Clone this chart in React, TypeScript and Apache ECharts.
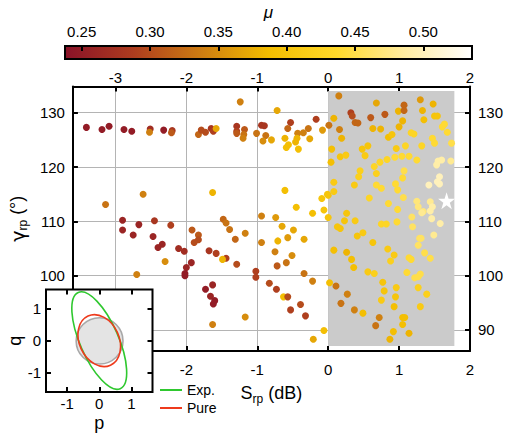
import React, { useEffect, useRef } from "react";
import * as echarts from "echarts";

const FONT = "Liberation Sans, Arial, Helvetica, sans-serif";

// Main axes
const sRange = [-3.6, 2];
const gammaRange = [86.13, 134.83];
const sTicks = [-3, -2, -1, 0, 1, 2];
const sLabelsBottom = [-2, -1, 0, 1, 2];
const gammaTicks = [90, 100, 110, 120, 130];
const gammaLabelsLeft = [100, 110, 120, 130];

// Colour bar (mu)
const muRange = [0.2378, 0.5356];
const muTicks = [0.25, 0.3, 0.35, 0.4, 0.45, 0.5];
const colorMap = ["#8a1228", "#ad3c1f", "#cd7c12", "#f3bd00", "#ffd92a", "#ffeca0", "#ffffff"];

// Highlighted region [Smin, gammaMin, Smax, gammaMax]
const highlightRegion = [[0, 87.05, 1.78, 134.0]];
// Star marker [S, gamma]
const starPoint = [[1.67, 113.8]];

// Scatter data [S (dB), gamma (deg), mu]
const topBandLeft = [
  [-3.41, 127.3, 0.25], [-3.19, 126.9, 0.25], [-3.09, 127.5, 0.25], [-2.88, 126.9, 0.25],
  [-2.77, 126.6, 0.25], [-2.51, 127.0, 0.27], [-2.52, 126.4, 0.34], [-2.32, 126.8, 0.25],
  [-2.2, 126.7, 0.28], [-2.21, 126.3, 0.31], [-1.83, 126.0, 0.32], [-1.79, 126.8, 0.3],
  [-1.73, 126.4, 0.3], [-1.65, 127.1, 0.28], [-1.62, 126.6, 0.29], [-1.58, 127.1, 0.37],
  [-1.29, 127.5, 0.28], [-1.29, 126.6, 0.29], [-1.29, 126.2, 0.31], [-1.18, 126.9, 0.31],
  [-1.19, 126.0, 0.33], [-1.2, 125.3, 0.34], [-1.01, 126.2, 0.33], [-0.94, 127.7, 0.28],
  [-0.9, 127.6, 0.28], [-0.88, 125.8, 0.33], [-0.92, 124.8, 0.35], [-0.8, 125.0, 0.37],
  [-0.53, 128.2, 0.29], [-0.57, 127.1, 0.32], [-0.43, 126.2, 0.34], [-0.61, 125.3, 0.38],
  [-0.44, 125.3, 0.38], [-0.56, 124.1, 0.39], [-0.59, 123.6, 0.39], [-0.46, 124.6, 0.38],
  [-0.42, 123.3, 0.39], [-0.35, 126.3, 0.34], [-0.28, 127.1, 0.33], [-0.26, 125.2, 0.37],
  [-0.17, 128.8, 0.29], [-0.08, 126.8, 0.36], [-1.24, 132.0, 0.34], [-0.72, 130.4, 0.37],
];

const grayTop = [
  [0.01, 127.7, 0.33], [0.08, 129.0, 0.38], [0.15, 133.1, 0.34], [0.16, 126.9, 0.34],
  [0.19, 125.3, 0.38], [0.05, 123.3, 0.39], [0.32, 130.0, 0.29], [0.34, 129.4, 0.3],
  [0.38, 128.2, 0.32], [0.42, 128.1, 0.32], [0.6, 129.1, 0.31], [0.68, 131.8, 0.37],
  [0.8, 129.7, 0.31], [0.63, 127.1, 0.38], [0.74, 127.0, 0.38], [0.99, 130.3, 0.38],
  [1.07, 131.4, 0.32], [1.07, 130.4, 0.32], [1.0, 127.4, 0.38], [1.05, 128.5, 0.38],
  [1.3, 132.4, 0.36], [1.33, 130.4, 0.38], [1.35, 128.7, 0.39], [1.48, 131.6, 0.38],
  [1.5, 129.4, 0.4], [1.54, 129.4, 0.4], [0.85, 125.5, 0.39], [0.9, 126.0, 0.4],
  [1.17, 126.3, 0.43], [1.21, 126.1, 0.43], [1.61, 127.4, 0.44], [1.64, 127.9, 0.44],
  [1.68, 126.4, 0.44], [1.47, 125.3, 0.44], [1.5, 124.4, 0.44], [1.74, 124.4, 0.45],
  [1.32, 123.9, 0.43], [0.96, 123.4, 0.41], [1.09, 123.9, 0.43], [0.48, 123.3, 0.4],
  [0.56, 123.9, 0.4], [0.52, 122.1, 0.41],
];

const grayMiddle = [
  [0.17, 121.9, 0.4], [0.25, 122.2, 0.41], [0.04, 120.9, 0.39], [0.73, 120.9, 0.43],
  [0.83, 121.4, 0.43], [0.94, 121.8, 0.44], [1.04, 122.0, 0.44], [1.14, 122.0, 0.44],
  [1.25, 121.3, 0.44], [0.65, 120.1, 0.43], [0.68, 118.8, 0.42], [0.45, 119.3, 0.42],
  [0.43, 118.2, 0.42], [1.07, 119.3, 0.45], [1.05, 118.0, 0.44], [1.55, 121.1, 0.49],
  [1.6, 121.3, 0.49], [1.73, 121.1, 0.48], [1.53, 120.4, 0.49], [1.57, 118.2, 0.5],
  [1.54, 117.3, 0.5], [1.42, 116.7, 0.5], [1.57, 116.9, 0.5], [0.08, 117.2, 0.41],
  [0.08, 115.5, 0.41], [0.37, 116.7, 0.41], [0.68, 116.7, 0.44], [0.75, 116.1, 0.44],
  [0.95, 116.9, 0.44], [0.98, 115.8, 0.44], [1.06, 114.4, 0.45], [0.58, 114.3, 0.43],
  [0.85, 113.3, 0.44], [0.0, 114.8, 0.4], [1.25, 113.7, 0.47], [1.27, 112.7, 0.47],
  [1.34, 111.8, 0.47], [1.44, 113.6, 0.48], [1.47, 112.7, 0.49], [1.44, 111.9, 0.49],
  [0.98, 112.2, 0.44], [0.26, 111.5, 0.4],
];

const leftMiddle = [
  [-3.14, 113.1, 0.33], [-2.61, 115.0, 0.34], [-1.63, 115.3, 0.38], [-0.61, 115.7, 0.39],
  [-0.45, 112.6, 0.39], [-0.22, 111.5, 0.39], [-0.09, 114.2, 0.4], [-0.01, 115.0, 0.4],
  [-0.06, 112.1, 0.4], [-0.94, 111.0, 0.34], [-0.74, 110.7, 0.36], [-1.48, 110.4, 0.32],
  [-1.44, 109.7, 0.33], [-1.39, 108.5, 0.33], [-1.17, 107.8, 0.34], [-1.31, 106.7, 0.32],
  [-1.68, 104.6, 0.28], [-1.58, 104.1, 0.29], [-1.44, 103.2, 0.29], [-1.49, 103.0, 0.38],
  [-1.29, 102.1, 0.3], [-0.65, 109.1, 0.37], [-0.49, 108.4, 0.37], [-0.94, 106.1, 0.34],
  [-0.71, 106.4, 0.38], [-0.57, 107.0, 0.36], [-0.34, 106.7, 0.37], [-0.75, 104.4, 0.34],
  [-0.51, 103.7, 0.35], [-0.59, 102.4, 0.33], [-0.72, 101.8, 0.31], [-1.02, 100.8, 0.29],
  [-1.02, 99.7, 0.29], [-0.34, 100.4, 0.33], [-0.22, 99.0, 0.34], [-0.83, 98.6, 0.3],
  [-0.73, 97.5, 0.29], [-0.63, 96.1, 0.39], [-0.57, 96.1, 0.3], [-0.39, 94.7, 0.3],
  [-0.53, 93.7, 0.29], [-0.32, 92.6, 0.29], [-1.63, 98.3, 0.26], [-1.73, 97.5, 0.25],
  [-1.66, 96.2, 0.26], [-1.6, 95.4, 0.25], [-1.62, 94.8, 0.25], [-1.17, 92.4, 0.35],
  [-1.63, 91.0, 0.34], [-0.06, 89.9, 0.39], [-0.21, 88.3, 0.37],
];

const leftLower = [
  [-2.9, 110.2, 0.26], [-2.9, 108.4, 0.26], [-2.67, 109.4, 0.26], [-2.45, 110.1, 0.28],
  [-2.22, 109.3, 0.29], [-2.75, 107.5, 0.26], [-2.47, 107.2, 0.26], [-2.34, 105.8, 0.26],
  [-2.4, 105.2, 0.26], [-2.3, 102.6, 0.35], [-2.7, 100.2, 0.34], [-2.11, 105.0, 0.27],
  [-2.03, 104.5, 0.27], [-1.93, 102.4, 0.26], [-2.0, 101.5, 0.26], [-2.02, 100.4, 0.25],
  [-2.02, 100.0, 0.25], [-1.92, 108.4, 0.31], [-1.83, 107.5, 0.31], [-1.83, 106.6, 0.3],
  [-1.89, 106.1, 0.3],
];

const grayLower = [
  [0.0, 110.7, 0.4], [0.13, 109.0, 0.4], [0.17, 108.7, 0.4], [0.23, 110.1, 0.4],
  [0.38, 110.1, 0.41], [0.49, 107.9, 0.41], [0.41, 107.3, 0.4], [0.75, 109.5, 0.43],
  [0.82, 109.5, 0.43], [0.97, 109.9, 0.44], [1.18, 110.8, 0.46], [1.32, 111.6, 0.48],
  [1.46, 110.5, 0.49], [1.58, 109.6, 0.49], [1.19, 109.0, 0.46], [1.29, 106.9, 0.46],
  [1.31, 106.9, 0.46], [1.27, 105.6, 0.46], [1.49, 107.5, 0.48], [1.36, 104.2, 0.45],
  [1.44, 103.2, 0.45], [0.63, 106.1, 0.4], [0.84, 104.9, 0.41], [0.93, 103.8, 0.41],
  [0.88, 102.7, 0.42], [1.14, 103.3, 0.44], [1.17, 103.0, 0.44], [0.08, 104.7, 0.39],
  [0.26, 104.3, 0.38], [0.33, 103.0, 0.39], [0.36, 101.5, 0.39], [0.56, 100.7, 0.41],
  [0.65, 100.4, 0.42], [1.11, 100.6, 0.44], [1.22, 99.6, 0.45], [1.3, 100.3, 0.45],
  [1.27, 99.8, 0.45], [0.02, 98.7, 0.39], [0.11, 98.1, 0.33], [0.27, 96.6, 0.34],
  [0.18, 94.9, 0.33], [0.37, 93.7, 0.34], [0.49, 93.1, 0.39], [0.77, 98.8, 0.4],
  [0.79, 97.2, 0.4], [0.75, 95.5, 0.41], [0.96, 97.8, 0.41], [0.95, 96.1, 0.4],
  [0.93, 94.3, 0.39], [1.27, 97.8, 0.42], [1.39, 96.6, 0.42], [1.3, 94.3, 0.41],
  [0.72, 92.3, 0.34], [0.67, 90.8, 0.33], [1.05, 92.3, 0.39], [1.08, 92.3, 0.39],
  [1.05, 91.0, 0.39], [0.92, 89.7, 0.39], [1.14, 89.4, 0.38], [0.87, 88.3, 0.38],
];

// Inset (phase-space ellipses): [p centre, q centre, semi-axis a, semi-axis b, angle deg]
const pRange = [-1.66, 1.66];
const qRange = [-1.62, 1.61];
const insetTicks = [-1, 0, 1];
const vacuumCircle = [[0.01, -0.01, 0.73, 0.73, 0]];
const expEllipse = [[0, 0, 1.637, 0.607, 113.6]];
const pureEllipse = [[0, 0, 0.843, 0.628, 114.6]];

const STAR = "path://M50,0 L61.2,34.5 L97.6,34.5 L68.2,55.9 L79.4,90.5 L50,69.1 L20.6,90.5 L31.8,55.9 L2.4,34.5 L38.8,34.5 Z";

function ellipseRenderer(stroke: string, fill: string, lw: number) {
  return (params: any, api: any) => {
    const c = api.coord([api.value(0), api.value(1)]);
    const rx = api.size([api.value(2), 0])[0];
    const ry = api.size([0, api.value(3)])[1];
    return {
      type: "ellipse",
      x: c[0],
      y: c[1],
      rotation: (api.value(4) * Math.PI) / 180,
      shape: { cx: 0, cy: 0, rx, ry },
      style: { fill, stroke, lineWidth: lw },
    };
  };
}

const mainText = (size = 18, family = FONT) => ({ fontSize: size, lineHeight: 21, verticalAlign: "top", fontFamily: family, color: "#000" });
const subText = () => ({ fontSize: 12, lineHeight: 21, verticalAlign: "bottom", fontFamily: FONT, color: "#000" });

export default function App() {
  const ref = useRef<HTMLDivElement>(null);
  useEffect(() => {
    if (!ref.current) return;
    const chart = echarts.init(ref.current, null, { renderer: "svg" });
    const black = "#000";
    const tickStyle = { lineStyle: { color: black, width: 2 } };
    const lbl = { color: black, fontSize: 15, fontFamily: FONT };
    const noLine = { show: false, onZero: false };
    const allPoints = [...topBandLeft, ...grayTop, ...grayMiddle, ...leftMiddle, ...leftLower, ...grayLower];

    const option: any = {
      animation: false,
      backgroundColor: "#fff",
      textStyle: { fontFamily: FONT },
      grid: [
        { left: 65, top: 86.5, width: 406.5, height: 264.5, show: false },
        { left: 65, top: 46, width: 407, height: 13, show: false },
        { left: 46, top: 289.5, width: 106.5, height: 106.5, show: true, z: 10, backgroundColor: "#fff", borderColor: black, borderWidth: 2 },
      ],
      xAxis: [
        {
          gridIndex: 0, type: "value", min: sRange[0], max: sRange[1], position: "bottom",
          axisLine: { show: true, onZero: false, lineStyle: { color: black, width: 2 } },
          axisTick: { show: true, inside: true, length: 5, customValues: sTicks, ...tickStyle },
          axisLabel: { ...lbl, margin: 11, customValues: sLabelsBottom },
          splitLine: { show: true, lineStyle: { color: "#b4b4b4", width: 1 } },
          name: "{xa|S}{xb|rp}{xc| (dB)}", nameLocation: "middle", nameGap: 33,
          nameTextStyle: { color: black, rich: { xa: mainText(), xb: subText(), xc: mainText() } },
        },
        {
          gridIndex: 0, type: "value", min: sRange[0], max: sRange[1], position: "top",
          axisLine: { show: true, onZero: false, lineStyle: { color: black, width: 2 } },
          axisTick: { show: true, inside: true, length: 5, customValues: sTicks, ...tickStyle },
          axisLabel: { ...lbl, margin: 2, customValues: sTicks },
          splitLine: { show: false },
        },
        {
          gridIndex: 1, type: "value", min: muRange[0], max: muRange[1], position: "top", z: 10,
          axisLine: noLine,
          axisTick: { show: true, inside: true, length: 5, customValues: muTicks, ...tickStyle },
          axisLabel: { ...lbl, margin: 7, customValues: muTicks, formatter: (v: number) => v.toFixed(2) },
          splitLine: { show: false },
          name: "μ", nameLocation: "middle", nameGap: 25,
          nameTextStyle: { fontSize: 17, fontStyle: "italic", color: black, fontFamily: FONT },
        },
        {
          gridIndex: 2, type: "value", min: pRange[0], max: pRange[1], position: "bottom", z: 11,
          axisLine: noLine,
          axisTick: { show: true, inside: true, length: 5, customValues: insetTicks, ...tickStyle },
          axisLabel: { ...lbl, margin: 4, customValues: insetTicks },
          splitLine: { show: false },
          name: "p", nameLocation: "middle", nameGap: 22,
          nameTextStyle: { fontSize: 18, color: black, fontFamily: FONT },
        },
        {
          gridIndex: 2, type: "value", min: pRange[0], max: pRange[1], position: "top", z: 11,
          axisLine: noLine,
          axisTick: { show: true, inside: true, length: 5, customValues: insetTicks, ...tickStyle },
          axisLabel: { show: false },
          splitLine: { show: false },
        },
      ],
      yAxis: [
        {
          gridIndex: 0, type: "value", min: gammaRange[0], max: gammaRange[1], position: "left",
          axisLine: { show: true, onZero: false, lineStyle: { color: black, width: 2 } },
          axisTick: { show: true, inside: true, length: 5, customValues: gammaTicks, ...tickStyle },
          axisLabel: { ...lbl, margin: 8, customValues: gammaLabelsLeft },
          splitLine: { show: true, lineStyle: { color: "#b4b4b4", width: 1 } },
          name: "{ya|γ}{yb|rp}{yc| (°)}", nameLocation: "middle", nameGap: 38, nameRotate: 90,
          nameTextStyle: {
            color: black,
            rich: { ya: mainText(19, "DejaVu Sans, sans-serif"), yb: subText(), yc: mainText() },
          },
        },
        {
          gridIndex: 0, type: "value", min: gammaRange[0], max: gammaRange[1], position: "right",
          axisLine: { show: true, onZero: false, lineStyle: { color: black, width: 2 } },
          axisTick: { show: true, inside: true, length: 5, customValues: gammaTicks, ...tickStyle },
          axisLabel: { ...lbl, margin: 8, customValues: gammaTicks },
          splitLine: { show: false },
        },
        { gridIndex: 1, type: "value", min: 0, max: 1, show: false },
        {
          gridIndex: 2, type: "value", min: qRange[0], max: qRange[1], position: "left", z: 11,
          axisLine: noLine,
          axisTick: { show: true, inside: true, length: 5, customValues: insetTicks, ...tickStyle },
          axisLabel: { ...lbl, margin: 5, customValues: insetTicks },
          splitLine: { show: false },
          name: "q", nameLocation: "middle", nameGap: 22,
          nameTextStyle: { fontSize: 18, color: black, fontFamily: FONT },
        },
        {
          gridIndex: 2, type: "value", min: qRange[0], max: qRange[1], position: "right", z: 11,
          axisLine: noLine,
          axisTick: { show: true, inside: true, length: 5, customValues: insetTicks, ...tickStyle },
          axisLabel: { show: false },
          splitLine: { show: false },
        },
      ],
      visualMap: {
        type: "continuous", show: false, min: muRange[0], max: muRange[1], dimension: 2,
        seriesIndex: 1, inRange: { color: colorMap },
      },
      legend: {
        data: ["Exp.", "Pure"], orient: "vertical", left: 155, top: 378, itemWidth: 22, itemHeight: 2,
        itemGap: 4, icon: "rect", selectedMode: false,
        textStyle: { fontSize: 14, color: black, fontFamily: FONT },
      },
      graphic: [
        {
          type: "rect", z: 0,
          shape: { x: 65, y: 46, width: 407, height: 13 },
          style: {
            fill: new echarts.graphic.LinearGradient(0, 0, 1, 0,
              colorMap.map((c, i) => ({ offset: i / (colorMap.length - 1), color: c }))),
            stroke: black, lineWidth: 2,
          },
        },
      ],
      series: [
        {
          type: "custom", name: "region", xAxisIndex: 0, yAxisIndex: 0, z: 1, silent: true,
          data: highlightRegion,
          renderItem: (params: any, api: any) => {
            const a = api.coord([api.value(0), api.value(3)]);
            const b = api.coord([api.value(2), api.value(1)]);
            return { type: "rect", shape: { x: a[0], y: a[1], width: b[0] - a[0], height: b[1] - a[1] }, style: { fill: "#cbcbcb" } };
          },
        },
        {
          type: "scatter", name: "data", xAxisIndex: 0, yAxisIndex: 0, z: 2,
          symbolSize: 7, data: allPoints, itemStyle: { opacity: 1 },
        },
        {
          type: "scatter", name: "star", xAxisIndex: 0, yAxisIndex: 0, z: 3,
          symbol: STAR, symbolSize: 17, data: starPoint, itemStyle: { color: "#ffffff", opacity: 1 },
        },
        {
          type: "custom", name: "Vacuum", xAxisIndex: 3, yAxisIndex: 3, z: 12, silent: true,
          data: vacuumCircle, itemStyle: { color: "#aaaaaa" },
          renderItem: ellipseRenderer("#a8a8a8", "#e4e4e4", 1.6),
        },
        {
          type: "custom", name: "Exp.", xAxisIndex: 3, yAxisIndex: 3, z: 13, silent: true,
          data: expEllipse, itemStyle: { color: "#2fc82f" },
          renderItem: ellipseRenderer("#2fc82f", "none", 1.6),
        },
        {
          type: "custom", name: "Pure", xAxisIndex: 3, yAxisIndex: 3, z: 14, silent: true,
          data: pureEllipse, itemStyle: { color: "#ee3a1c" },
          renderItem: ellipseRenderer("#ee3a1c", "none", 1.6),
        },
      ],
    };
    chart.setOption(option);
    return () => chart.dispose();
  }, []);
  return <div ref={ref} style={{ position: "absolute", left: 0, top: 0, width: 506, height: 433 }} />;
}
